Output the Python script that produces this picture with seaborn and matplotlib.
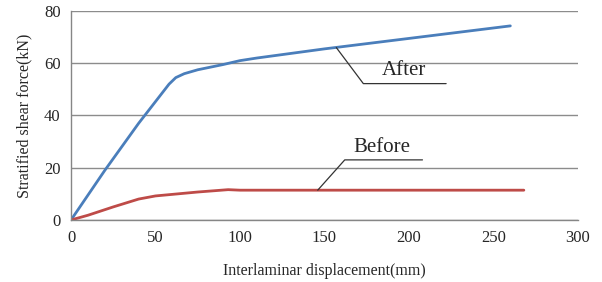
import numpy as np
import pandas as pd
import matplotlib
matplotlib.use("Agg")
import matplotlib.pyplot as plt
import seaborn as sns

after_x = [0, 20, 40, 58, 62, 67, 75, 90, 100, 110, 150, 200, 260]
after_y = [0, 19, 37, 52, 54.5, 56, 57.5, 59.5, 61, 62, 65.5, 69.5, 74.3]

before_x = [0, 10, 25, 40, 50, 60, 75, 93, 100, 150, 200, 268]
before_y = [0, 1.8, 5, 8, 9.2, 9.8, 10.7, 11.6, 11.4, 11.4, 11.4, 11.4]

x_ticks = [0, 50, 100, 150, 200, 250, 300]
y_ticks = [0, 20, 40, 60, 80]

df = pd.concat([
    pd.DataFrame({"disp": after_x, "force": after_y, "state": "After"}),
    pd.DataFrame({"disp": before_x, "force": before_y, "state": "Before"}),
])

sns.set_style("white")
plt.rcParams["font.family"] = ["Liberation Serif", "DejaVu Serif"]

fig = plt.figure(figsize=(6.02, 2.82), dpi=100)
ax = fig.add_axes([0.118, 0.22, 0.842, 0.741])

sns.lineplot(
    data=df, x="disp", y="force", hue="state",
    palette={"After": "#4a7ebb", "Before": "#be4b48"},
    sort=False, linewidth=2, legend=False, ax=ax
)

ax.set_xlim(0, 300)
ax.set_ylim(0, 80)
ax.set_xticks(x_ticks)
ax.set_yticks(y_ticks)
ax.tick_params(labelsize=12, length=4, color="#868686", width=1)
ax.yaxis.grid(True, color="#8c8c8c", linewidth=1)
ax.set_axisbelow(True)
for s in ["top", "right"]:
    ax.spines[s].set_visible(False)
for s in ["left", "bottom"]:
    ax.spines[s].set_color("#868686")
    ax.spines[s].set_linewidth(1)

ax.set_xlabel("Interlaminar displacement(mm)", fontsize=11.5, labelpad=12)
ax.set_ylabel("Stratified shear force(kN)", fontsize=11.5, labelpad=8)

# callouts
ax.plot([157, 173, 222], [66, 52.2, 52.2], color="#333333", linewidth=0.9)
ax.text(197, 53.5, "After", fontsize=15, ha="center", va="bottom")
ax.plot([146, 162, 208], [11.4, 23, 23], color="#333333", linewidth=0.9)
ax.text(184, 24, "Before", fontsize=15, ha="center", va="bottom")

fig.savefig("out.png", dpi=100)
